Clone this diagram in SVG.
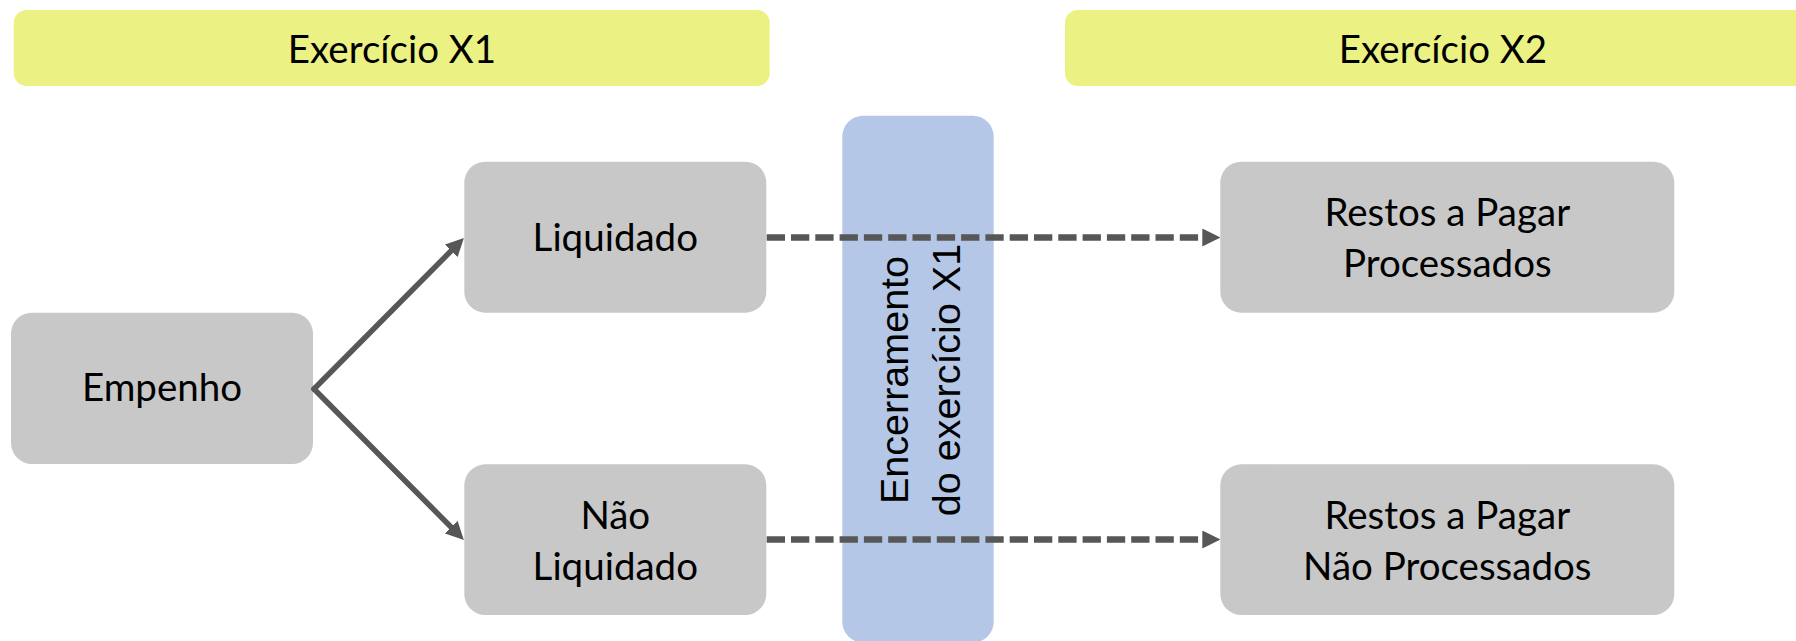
<svg xmlns="http://www.w3.org/2000/svg" width="1796" height="641" viewBox="0 0 1796 641">
<style>
.banner{fill:#ebf283;}
.box{fill:#c8c8c8;}
.bar{fill:#b4c7e7;}
.t{font-family:Lato,"Liberation Sans",sans-serif;font-size:38.5px;fill:#000;text-anchor:middle;}
.vt{font-family:"Liberation Sans",Arial,sans-serif;font-size:39.5px;fill:#000;text-anchor:middle;}
.solid{stroke:#575757;stroke-width:5.5;fill:none;stroke-linecap:round;}
.dash{stroke:#575757;stroke-width:6.4;fill:none;stroke-dasharray:18.3 6;}
</style>
<defs>
<marker id="arr" viewBox="0 0 18 18" refX="0" refY="9" markerWidth="18" markerHeight="18" markerUnits="userSpaceOnUse" orient="auto">
<path d="M0,0 L18,9 L0,18 z" fill="#575757"/>
</marker>
</defs>
<rect width="1796" height="641" fill="#ffffff"/>
<g id="banner-x1">
<rect class="banner" x="13.7" y="10" width="756" height="76" rx="13"/>
<text class="t" x="392" y="62.5">Exercício X1</text>
</g>
<g id="banner-x2">
<rect class="banner" x="1065" y="10" width="760" height="76" rx="13"/>
<text class="t" x="1443" y="62.5">Exercício X2</text>
</g>
<g id="encerramento">
<rect class="bar" x="842.3" y="115.7" width="151.4" height="527" rx="21"/>
<text class="vt" transform="translate(907.5,380) rotate(-90)"><tspan x="0" y="0">Encerramento</tspan><tspan x="0" y="52">do exercício X1</tspan></text>
</g>
<g id="empenho">
<rect class="box" x="11" y="312.7" width="302" height="151.3" rx="21"/>
<text class="t" x="162" y="401">Empenho</text>
</g>
<g id="liquidado">
<rect class="box" x="464.3" y="161.7" width="302" height="151" rx="21"/>
<text class="t" x="615.3" y="251">Liquidado</text>
</g>
<g id="nao-liquidado">
<rect class="box" x="464.3" y="464.3" width="302" height="150.7" rx="21"/>
<text class="t" x="615.3" y="528.5">Não</text>
<text class="t" x="615.3" y="580">Liquidado</text>
</g>
<g id="rp-processados">
<rect class="box" x="1220.3" y="161.7" width="454" height="151" rx="21"/>
<text class="t" x="1447.3" y="225.5">Restos a Pagar</text>
<text class="t" x="1447.3" y="277.2">Processados</text>
</g>
<g id="rp-nao-processados">
<rect class="box" x="1220.3" y="464.3" width="454" height="150.7" rx="21"/>
<text class="t" x="1447.3" y="528.5">Restos a Pagar</text>
<text class="t" x="1447.3" y="580">Não Processados</text>
</g>
<g id="connectors">
<line class="solid" x1="314" y1="389" x2="451.2" y2="250.8" marker-end="url(#arr)"/>
<line class="solid" x1="314" y1="389" x2="451.2" y2="527.2" marker-end="url(#arr)"/>
<line class="dash" x1="766.7" y1="237.5" x2="1202.3" y2="237.5" marker-end="url(#arr)"/>
<line class="dash" x1="766.7" y1="539.5" x2="1202.3" y2="539.5" marker-end="url(#arr)"/>
</g>
</svg>
